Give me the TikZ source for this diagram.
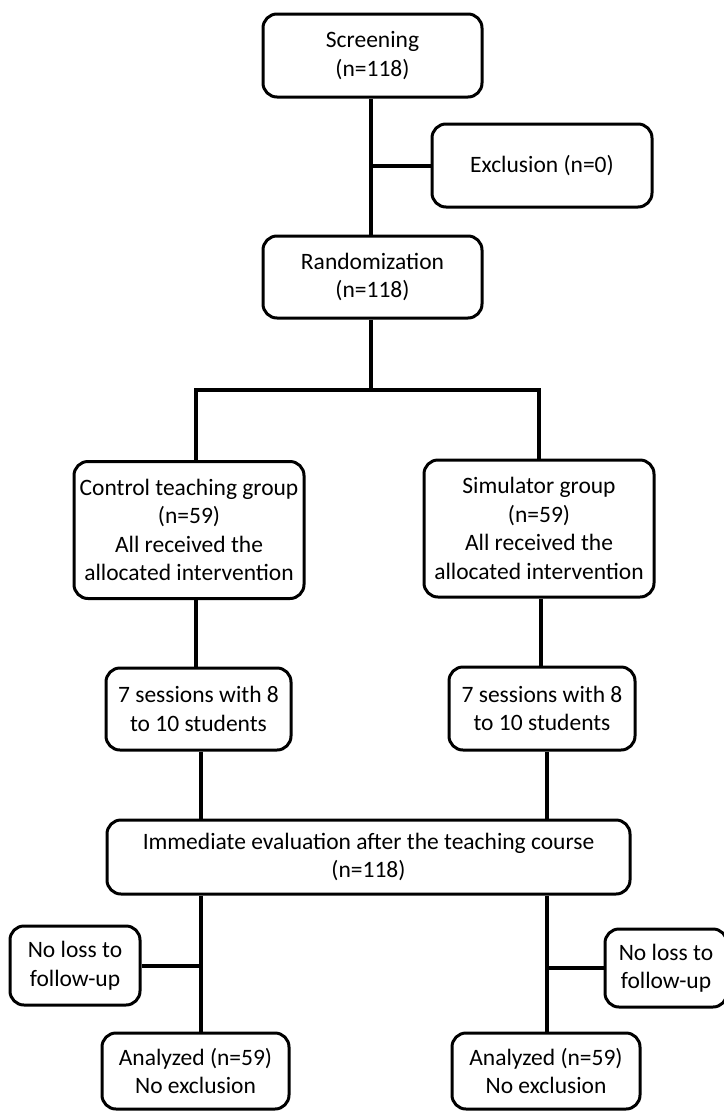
\documentclass[tikz,border=0pt]{standalone}
\usepackage{fontspec}
\setmainfont{Carlito}
\begin{document}
\begin{tikzpicture}[x=1pt,y=-1pt,
  box/.style={draw=black, line width=3pt, rounded corners=14pt, align=center,
    inner sep=0pt, font=\fontsize{23.5}{28.5}\selectfont, text=black},
  conn/.style={draw=black, line width=4pt}]
\useasboundingbox (0,0) rectangle (723,1111);
\fill[white] (0,0) rectangle (723,1111);
% nodes
\node[box, minimum width=219pt, minimum height=83pt] (scr) at (372.5,55.5) {Screening\\(n=118)};
\node[box, minimum width=220pt, minimum height=83pt] (excl) at (542,165.5) {Exclusion (n=0)};
\node[box, minimum width=219pt, minimum height=82pt] (rand) at (372.5,277) {Randomization\\(n=118)};
\node[box, minimum width=230pt, minimum height=137pt] (ctrl) at (189,530) {Control teaching group\\(n=59)\\All received the\\allocated intervention};
\node[box, minimum width=230pt, minimum height=137pt] (sim) at (539,528.5) {Simulator group\\(n=59)\\All received the\\allocated intervention};
\node[box, minimum width=185pt, minimum height=82pt] (ses1) at (198.5,709) {7 sessions with 8\\to 10 students};
\node[box, minimum width=186pt, minimum height=83pt] (ses2) at (542,708.5) {7 sessions with 8\\to 10 students};
\node[box, minimum width=523pt, minimum height=74pt] (eval) at (368.5,857) {Immediate evaluation after the teaching course\\(n=118)};
\node[box, minimum width=130pt, minimum height=79pt] (nl1) at (75,965.5) {No loss to\\follow-up};
\node[box, minimum width=122pt, minimum height=78pt] (nl2) at (666,968) {No loss to\\follow-up};
\node[box, minimum width=187pt, minimum height=76pt] (an1) at (195.5,1071) {Analyzed (n=59)\\No exclusion};
\node[box, minimum width=188pt, minimum height=76pt] (an2) at (546,1071) {Analyzed (n=59)\\No exclusion};
% helper coordinates
\coordinate (tx) at (371,0);
\coordinate (split) at (371,390);
\coordinate (sl) at (196,390);
\coordinate (sr) at (539,390);
\coordinate (lx) at (201,0);
\coordinate (rx) at (547,0);
% connectors
\draw[conn] (tx |- scr.south) -- (tx |- rand.north);
\draw[conn] (tx |- excl.west) -- (excl.west);
\draw[conn] (tx |- rand.south) -- (split);
\draw[conn, line cap=rect] (sl) -- (sr);
\draw[conn] (sl) -- (sl |- ctrl.north);
\draw[conn] (sr) -- (sr |- sim.north);
\draw[conn] (sl |- ctrl.south) -- (sl |- ses1.north);
\draw[conn] (541,0 |- sim.south) -- (541,0 |- ses2.north);
\draw[conn] (lx |- ses1.south) -- (lx |- eval.north);
\draw[conn] (rx |- ses2.south) -- (rx |- eval.north);
\draw[conn] (lx |- eval.south) -- (lx |- an1.north);
\draw[conn] (rx |- eval.south) -- (rx |- an2.north);
\draw[conn] (nl1.east) -- (lx |- nl1.east);
\draw[conn] (nl2.west) -- (rx |- nl2.west);
\end{tikzpicture}
\end{document}
